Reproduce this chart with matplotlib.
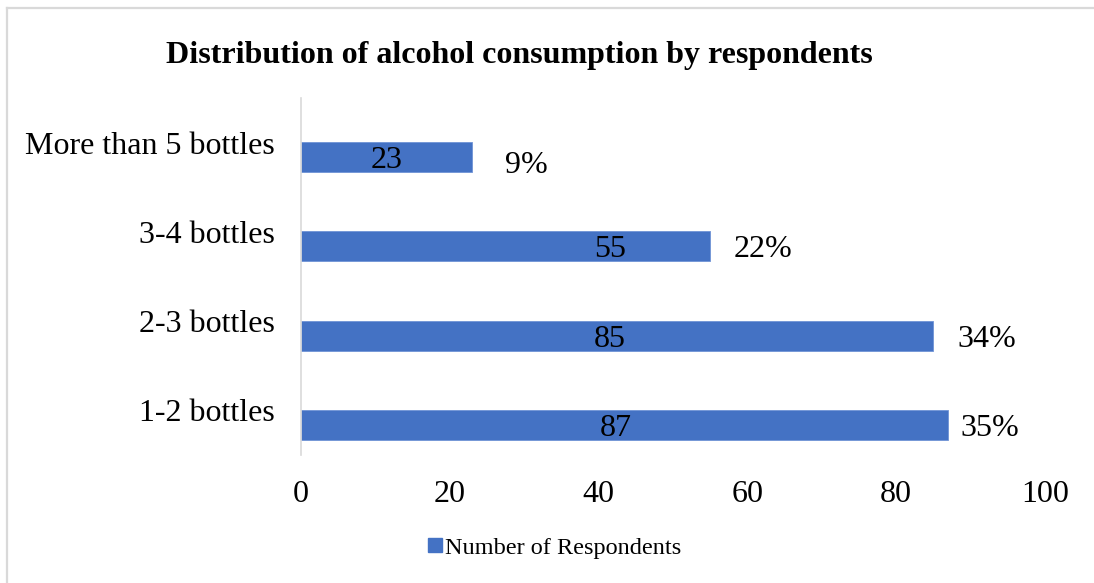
import numpy as np
import matplotlib
matplotlib.use("Agg")
import matplotlib.pyplot as plt
from matplotlib.lines import Line2D

# data (bottom to top, as drawn)
categories = ["1-2 bottles", "2-3 bottles", "3-4 bottles", "More than 5 bottles"]
respondents = [87, 85, 55, 23]
shares = ["35%", "34%", "22%", "9%"]
x_ticks = [0, 20, 40, 60, 80, 100]

# label placement (data units), hand-moved like in the source chart
value_label_x = [42.3, 41.5, 41.5, 11.5]
share_label_x = [88.6, 88.2, 58.1, 27.4]
share_label_dy = [0.0, 0.0, 0.0, -0.05]

BLUE = "#4472C4"
GREY = "#D9D9D9"

plt.rcParams["font.family"] = ["Liberation Serif", "DejaVu Serif"]

fig = plt.figure(figsize=(10.94, 5.83), dpi=100)
ax = fig.add_axes([0.2751, 0.2196, 0.6801, 0.6123])

y = np.arange(len(categories))
bar_y = y - 0.163
ax.barh(bar_y, respondents, height=0.336, color=BLUE, edgecolor="#6F93D6", linewidth=0.6)

for i, v in enumerate(respondents):
    ax.text(value_label_x[i], bar_y[i], str(v), ha="center", va="center_baseline",
            fontsize=23, color="black")
    ax.text(share_label_x[i], bar_y[i] + share_label_dy[i], shares[i],
            ha="left", va="center_baseline", fontsize=23, color="black")

ax.set_xlim(0, 100)
ax.set_ylim(-0.5, 3.5)
ax.set_xticks(x_ticks)
ax.set_yticks(y)
ax.set_yticklabels(categories)
ax.tick_params(axis="both", length=0, labelsize=23)
ax.tick_params(axis="x", pad=18)
ax.tick_params(axis="y", pad=19)

for side in ["top", "right", "bottom"]:
    ax.spines[side].set_visible(False)
ax.spines["left"].set_color(GREY)
ax.spines["left"].set_linewidth(1.2)

fig.text(0.4744, 0.904, "Distribution of alcohol consumption by respondents",
         ha="center", va="center", fontsize=23, fontweight="bold")

handle = plt.Rectangle((0, 0), 1, 1, color=BLUE)
fig.legend([handle], ["Number of Respondents"], loc="center",
           bbox_to_anchor=(0.507, 0.06), frameon=False, fontsize=17.5,
           handlelength=0.55, handleheight=0.55, handletextpad=0.12)

# outer chart frame (top and left edges are visible in the crop)
fig.add_artist(Line2D([0.0064, 0.0064], [0, 0.986], color=GREY, lw=1.6,
                      transform=fig.transFigure))
fig.add_artist(Line2D([0.0064, 1.0], [0.986, 0.986], color=GREY, lw=1.6,
                      transform=fig.transFigure))

fig.savefig("out.png", dpi=100)
